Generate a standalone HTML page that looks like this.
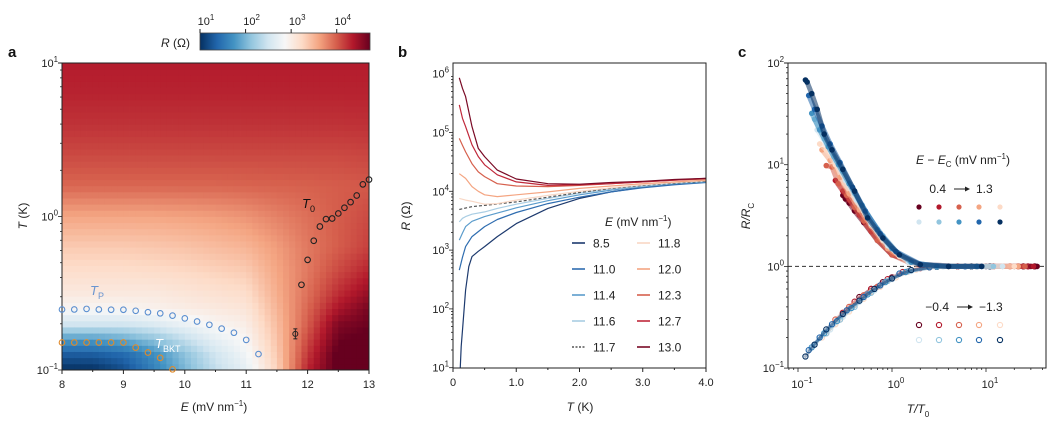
<!DOCTYPE html>
<html><head><meta charset="utf-8"><style>
body{margin:0;background:#fff}
svg{display:block;font-family:"Liberation Sans",sans-serif}
</style></head><body>
<svg id="fig" width="1064" height="422" viewBox="0 0 1064 422" xmlns="http://www.w3.org/2000/svg">
<g id="pa"></g>
<g id="pb"></g>
<g id="pc"></g>
</svg>
<script>
// ---------- Panel a data ----------
const heatE=[8,8.5,9,9.5,10,10.5,11,11.5,12,12.5,13];
const heatLogT=[-1,-0.9,-0.8,-0.7,-0.6,-0.5,-0.35,-0.2,0,0.2,0.4,0.6,0.8,1];
const heatLogR=[
[1.0,1.0,1.2,1.6,2.0,2.4,2.7,3.3,4.3,4.8,5.0],
[1.3,1.3,1.4,1.7,2.1,2.5,2.8,3.35,4.2,4.8,4.9],
[1.8,1.8,1.9,2.1,2.4,2.7,2.9,3.4,4.1,4.7,4.8],
[2.5,2.5,2.5,2.6,2.75,2.9,3.0,3.45,4.0,4.6,4.7],
[2.9,2.9,2.9,2.95,3.0,3.05,3.1,3.5,3.95,4.4,4.65],
[3.05,3.05,3.05,3.05,3.1,3.15,3.2,3.55,3.9,4.25,4.5],
[3.2,3.2,3.2,3.22,3.25,3.3,3.35,3.6,3.85,4.1,4.3],
[3.35,3.35,3.35,3.37,3.4,3.45,3.5,3.65,3.85,4.0,4.15],
[3.6,3.6,3.6,3.6,3.62,3.65,3.7,3.8,3.9,4.0,4.1],
[3.95,3.95,3.95,3.95,3.95,3.95,3.96,3.97,3.98,4.0,4.02],
[4.1,4.1,4.1,4.1,4.1,4.1,4.1,4.1,4.1,4.1,4.12],
[4.22,4.22,4.22,4.22,4.22,4.22,4.22,4.22,4.22,4.22,4.23],
[4.3,4.3,4.3,4.3,4.3,4.3,4.3,4.3,4.3,4.3,4.3],
[4.34,4.34,4.34,4.34,4.34,4.34,4.34,4.34,4.34,4.34,4.34]];
const tpE=[8,8.2,8.4,8.6,8.8,9,9.2,9.4,9.6,9.8,10,10.2,10.4,10.6,10.8,11,11.2];
const tpT=[.248,.248,.25,.248,.247,.247,.243,.238,.234,.226,.217,.207,.197,.186,.175,.157,.127];
const tbE=[8,8.2,8.4,8.6,8.8,9,9.2,9.4,9.6,9.8];
const tbT=[.151,.151,.151,.151,.151,.151,.14,.13,.12,.101];
const t0E=[11.9,12,12.1,12.2,12.3,12.4,12.5,12.6,12.7,12.8,12.9,13];
const t0T=[.359,.522,.695,.861,.962,.97,1.047,1.14,1.24,1.37,1.62,1.74];
const errE=[11.8], errT=[0.172];
// ---------- Panel b data ----------
const bLabels=["8.5","11.0","11.4","11.6","11.7","11.8","12.0","12.3","12.7","13.0"];
const bColors=["#1d3a6e","#2f6db0","#5b9ccc","#a9cde3","#555555","#f8d7c5","#f4a582","#d6604d","#c0283a","#7a0a25"];
const bT=[
[0.11,0.13,0.15,0.2,0.25,0.3,0.4,0.5,0.7,1.0,1.5,2.0,2.5,3.0,3.5,4.0],
[0.1,0.15,0.2,0.3,0.5,0.7,1.0,1.5,2,2.5,3,3.5,4],
[0.1,0.15,0.2,0.3,0.5,0.7,1.0,1.5,2,2.5,3,3.5,4],
[0.1,0.15,0.2,0.3,0.5,0.7,1.0,1.5,2,2.5,3,3.5,4],
[0.1,0.3,0.5,1.0,1.5,2,2.5,3,3.5,4],
[0.1,0.2,0.3,0.5,0.7,1.0,1.5,2,2.5,3,3.5,4],
[0.1,0.2,0.3,0.4,0.5,0.7,1.0,1.5,2,2.5,3,3.5,4],
[0.1,0.15,0.2,0.3,0.4,0.5,0.7,1.0,1.5,2,2.5,3,3.5,4],
[0.1,0.15,0.2,0.3,0.4,0.5,0.7,1.0,1.5,2,2.5,3,3.5,4],
[0.1,0.15,0.2,0.3,0.4,0.5,0.7,1.0,1.5,2,2.5,3,3.5,4]];
const bLogR=[
[0.9,1.36,1.64,2.32,2.72,2.89,2.98,3.06,3.23,3.45,3.71,3.88,3.99,4.07,4.12,4.16],
[2.66,2.88,3.06,3.23,3.4,3.52,3.64,3.79,3.9,3.99,4.06,4.11,4.15],
[3.17,3.29,3.4,3.49,3.57,3.63,3.72,3.84,3.94,4.02,4.08,4.13,4.16],
[3.48,3.54,3.57,3.61,3.65,3.71,3.78,3.88,3.97,4.04,4.09,4.14,4.17],
[3.69,3.74,3.76,3.82,3.9,3.98,4.05,4.1,4.14,4.17],
[3.88,3.85,3.83,3.78,3.79,3.85,3.93,4.0,4.06,4.11,4.15,4.18],
[4.3,4.22,4.08,4.0,3.94,3.91,3.94,3.99,4.05,4.09,4.13,4.16,4.19],
[4.9,4.78,4.67,4.47,4.33,4.25,4.13,4.09,4.08,4.1,4.13,4.16,4.19,4.21],
[5.47,5.24,5.1,4.79,4.59,4.45,4.28,4.16,4.1,4.11,4.13,4.16,4.19,4.22],
[5.93,5.75,5.61,5.1,4.73,4.59,4.36,4.21,4.13,4.12,4.15,4.17,4.2,4.22]];
// ---------- Panel c data ----------
const cColors=["#67001f","#b2182b","#d6604d","#f4a582","#fddbc7","#d1e5f0","#92c5de","#4393c3","#2166ac","#053061"];
const cUpX=[
[0.3,0.32,0.35,0.4,0.5,0.7,1,2,5,10,20,30,35],
[0.25,0.3,0.35,0.45,0.6,1,2,5,12,25,32],
[0.2,0.23,0.27,0.33,0.4,0.5,0.7,1,1.5,3,8,18,26],
[0.18,0.22,0.28,0.35,0.45,0.6,0.9,1.5,3,7,15,22],
[0.17,0.2,0.25,0.3,0.4,0.55,0.8,1.2,2,5,12,20],
[0.16,0.2,0.25,0.32,0.42,0.6,0.9,1.5,3,8,15],
[0.15,0.19,0.24,0.3,0.4,0.55,0.8,1.2,2,5,12],
[0.14,0.17,0.21,0.27,0.35,0.48,0.7,1,1.6,3,8],
[0.13,0.15,0.18,0.22,0.28,0.38,0.52,0.75,1.1,2,4,9],
[0.12,0.125,0.14,0.16,0.19,0.23,0.3,0.4,0.55,0.8,1.2,2,4,9]];
const cUpY=[
[5,4.6,4.2,3.5,2.7,1.8,1.3,1.05,1,1,1,1,1],
[7,5.5,4.5,3.2,2.2,1.3,1.04,1,1,1,1],
[9.8,9.5,6.5,5,3.8,2.8,1.8,1.3,1.1,1,1,1,1],
[14,11,7.5,5.2,3.6,2.5,1.5,1.1,1,1,1,1],
[16,14,10,8,5,3,1.8,1.25,1.05,1,1,1],
[22,16,11,7,4.5,2.6,1.6,1.1,1,1,1],
[28,18,12,8.5,5.2,3.2,2,1.3,1.05,1,1],
[32,22,15,10,6.5,4,2.3,1.5,1.1,1,1],
[48,35,24,16,10.5,6,3.5,2.1,1.4,1.05,1,1],
[68,65,50,35,20,14,9,5.5,3,1.9,1.3,1.04,1,1]];
const cLoX=[
[0.45,0.6,0.8,1,1.5,2.5,5,12,25,33],
[0.3,0.4,0.6,0.9,1.3,2,5,12,28],
[0.25,0.35,0.5,0.7,1,1.5,3,8,22],
[0.2,0.28,0.4,0.6,0.9,1.4,2.5,7,18],
[0.18,0.25,0.35,0.5,0.75,1.1,1.8,4,12],
[0.17,0.22,0.3,0.45,0.65,1,1.6,3.5,10],
[0.15,0.2,0.28,0.4,0.6,0.9,1.5,3,8],
[0.14,0.19,0.26,0.37,0.55,0.85,1.4,3,7],
[0.13,0.17,0.23,0.33,0.5,0.75,1.2,2.5,6],
[0.12,0.15,0.2,0.3,0.45,0.65,1,1.6,3,7,11]];
const cLoY=[
[0.5,0.6,0.7,0.78,0.9,0.98,1,1,1,1],
[0.35,0.45,0.6,0.75,0.88,0.96,1,1,1],
[0.3,0.4,0.52,0.63,0.76,0.9,0.99,1,1],
[0.22,0.3,0.42,0.56,0.72,0.88,0.98,1,1],
[0.2,0.27,0.36,0.48,0.63,0.78,0.93,1,1],
[0.2,0.24,0.32,0.45,0.58,0.75,0.9,1,1],
[0.17,0.22,0.3,0.4,0.55,0.72,0.9,0.99,1],
[0.16,0.22,0.29,0.39,0.53,0.7,0.88,0.99,1],
[0.15,0.2,0.27,0.37,0.5,0.65,0.85,0.98,1],
[0.13,0.17,0.24,0.34,0.46,0.6,0.76,0.92,1,1,1]];

const NS="http://www.w3.org/2000/svg";
function mk(parent,tag,attrs,text){const e=document.createElementNS(NS,tag);for(const k in attrs)e.setAttribute(k,attrs[k]);if(text!==undefined)e.textContent=text;parent.appendChild(e);return e;}
function pow10(parent,x,y,exp,anchor,size){
  const t=mk(parent,'text',{x:x,y:y,'text-anchor':anchor||'end','font-size':size||11,fill:'#222'});
  mk(t,'tspan',{},'10');mk(t,'tspan',{dy:-5,'font-size':(size||11)*0.72},exp);
  
  
  return t;}
// colormap
const cmStops=["#053061","#2166ac","#4393c3","#92c5de","#d1e5f0","#f7f7f7","#fddbc7","#f4a582","#d6604d","#b2182b","#67001f"];
function hx(c){return [parseInt(c.substr(1,2),16),parseInt(c.substr(3,2),16),parseInt(c.substr(5,2),16)];}
function cmap(t){t=Math.max(0,Math.min(1,t));const f=t*10,i=Math.min(9,Math.floor(f)),r=f-i;const a=hx(cmStops[i]),b=hx(cmStops[i+1]);
 return `rgb(${Math.round(a[0]+(b[0]-a[0])*r)},${Math.round(a[1]+(b[1]-a[1])*r)},${Math.round(a[2]+(b[2]-a[2])*r)})`;}
const cLo=1,cHi=4.73;

// ================= PANEL A =================
const A=document.getElementById('pa');
const aL=62,aR=369,aT=63,aB=370;
const ax=e=>aL+(e-8)/5*(aR-aL);
const ay=t=>aB-(Math.log10(t)+1)/2*(aB-aT);
function interp(arr,v){for(let i=0;i<arr.length-1;i++){if(v<=arr[i+1])return [i,(v-arr[i])/(arr[i+1]-arr[i])];}return [arr.length-2,1];}
const hm=mk(A,'g',{});


const nE=50,nT=50;
for(let i=0;i<nE;i++){for(let j=0;j<nT;j++){
  const e=8+(i+0.5)*5/nE, lt=-1+(j+0.5)*2/nT;
  const [ci,cr]=interp(heatE,e),[ri,rr]=interp(heatLogT,lt);
  const v=(heatLogR[ri][ci]*(1-cr)+heatLogR[ri][ci+1]*cr)*(1-rr)+(heatLogR[ri+1][ci]*(1-cr)+heatLogR[ri+1][ci+1]*cr)*rr;
  const x0=ax(8+i*5/nE),x1=ax(8+(i+1)*5/nE),y1=ay(Math.pow(10,-1+j*2/nT)),y0=ay(Math.pow(10,-1+(j+1)*2/nT));
  const r=mk(hm,'rect',{x:x0.toFixed(2),y:y0.toFixed(2),width:(x1-x0+0.4).toFixed(2),height:(y1-y0+0.4).toFixed(2),fill:cmap((v-cLo)/(cHi-cLo))});
  
  
}}
mk(A,'rect',{x:aL,y:aT,width:aR-aL,height:aB-aT,fill:'none',stroke:'#222','stroke-width':1});
// ticks
for(let d=-1;d<1;d++){for(let m=1;m<10;m++){const y=ay(m*Math.pow(10,d));mk(A,'line',{x1:aL,x2:aL-(m==1?4:2),y1:y,y2:y,stroke:'#222','stroke-width':0.8});}}
mk(A,'line',{x1:aL,x2:aL-4,y1:aT,y2:aT,stroke:'#222'});
pow10(A,58,aT+4,'1');pow10(A,58,ay(1)+4,'0');pow10(A,58,aB+4,'−1');
for(let e=8;e<=13;e++){mk(A,'line',{x1:ax(e),x2:ax(e),y1:aB,y2:aB+4,stroke:'#222'});const t=mk(A,'text',{x:ax(e),y:aB+18,'text-anchor':'middle','font-size':11,fill:'#222'},String(e));}
for(let e=8.5;e<13;e+=1){mk(A,'line',{x1:ax(e),x2:ax(e),y1:aB,y2:aB+2,stroke:'#222'});}
let t=mk(A,'text',{x:214,y:411,'text-anchor':'middle','font-size':12,fill:'#222'});

t.innerHTML='<tspan font-style="italic">E</tspan> (mV nm<tspan dy="-5" font-size="8">−1</tspan><tspan dy="5">)</tspan>';
t=mk(A,'text',{x:0,y:0,transform:'translate(27,216) rotate(-90)','text-anchor':'middle','font-size':12,fill:'#222'});

t.innerHTML='<tspan font-style="italic">T</tspan> (K)';
// circles
function circles(es,ts,col,name){for(let i=0;i<es.length;i++){const c=mk(A,'circle',{cx:ax(es[i]),cy:ay(ts[i]),r:2.8,fill:'none',stroke:col,'stroke-width':1.1});}}
circles(tpE,tpT,'#5b8fd0','tp-point');
circles(tbE,tbT,'#e08a2a','tbkt-point');
circles(t0E,t0T,'#222','t0-point');
for(let i=0;i<errE.length;i++){const x=ax(errE[i]),y=ay(errT[i]);mk(A,'line',{x1:x,x2:x,y1:y-5,y2:y+5,stroke:'#222'});mk(A,'line',{x1:x-2,x2:x+2,y1:y-5,y2:y-5,stroke:'#222'});mk(A,'line',{x1:x-2,x2:x+2,y1:y+5,y2:y+5,stroke:'#222'});
 const c=mk(A,'circle',{cx:x,cy:y,r:2.5,fill:'none',stroke:'#222'});}
t=mk(A,'text',{x:90,y:295,'font-size':13,fill:'#6a95d0','font-style':'italic'});t.innerHTML='T<tspan dy="4" font-size="9" font-style="normal">P</tspan>';

t=mk(A,'text',{x:155,y:348,'font-size':13,fill:'#fff','font-style':'italic'});t.innerHTML='T<tspan dy="4" font-size="9" font-style="normal">BKT</tspan>';

t=mk(A,'text',{x:302,y:208,'font-size':13,fill:'#111','font-style':'italic'});t.innerHTML='T<tspan dy="4" font-size="9" font-style="normal">0</tspan>';

// colorbar
const defs=mk(document.getElementById('fig'),'defs',{});
const lg=mk(defs,'linearGradient',{id:'cbg',x1:0,x2:1,y1:0,y2:0});
cmStops.forEach((c,i)=>mk(lg,'stop',{offset:i/10,'stop-color':c}));
const cb=mk(A,'rect',{x:200,y:33,width:170,height:17,fill:'url(#cbg)',stroke:'#444','stroke-width':0.8});

const cbx=v=>200+(v-cLo)/(cHi-cLo)*170;
for(let d=1;d<=4;d++){mk(A,'line',{x1:cbx(d),x2:cbx(d),y1:33,y2:29,stroke:'#222'});pow10(A,cbx(d)+6,25,String(d),'middle',11);}
t=mk(A,'text',{x:190,y:47,'text-anchor':'end','font-size':12,fill:'#222'});t.innerHTML='<tspan font-style="italic">R</tspan> (Ω)';

t=mk(A,'text',{x:8,y:57,'font-size':15,'font-weight':'bold',fill:'#111'},'a');


// ================= PANEL B =================
const B=document.getElementById('pb');
const bL=453,bR=706,bTop=63,bB=368;
const bx=T=>bL+T/4*(bR-bL);
const by=l=>367.7-(l-1)*58.8;
mk(defs,'clipPath',{id:'bclip'}).appendChild(Object.assign(document.createElementNS(NS,'rect'),{}));
document.querySelector('#bclip rect').setAttribute('x',bL);document.querySelector('#bclip rect').setAttribute('y',bTop);document.querySelector('#bclip rect').setAttribute('width',bR-bL);document.querySelector('#bclip rect').setAttribute('height',bB-bTop);
const bg=mk(B,'g',{'clip-path':'url(#bclip)'});
for(let s=0;s<bT.length;s++){
  const pts=bT[s].map((T,i)=>bx(T).toFixed(1)+','+by(bLogR[s][i]).toFixed(1)).join(' ');
  const p=mk(bg,'polyline',{points:pts,fill:'none',stroke:bColors[s],'stroke-width':1.2,'stroke-dasharray':s==4?'3,2':'none','stroke-linejoin':'round'});
  
}
mk(B,'rect',{x:bL,y:bTop,width:bR-bL,height:bB-bTop,fill:'none',stroke:'#222'});
for(let d=1;d<6;d++){for(let m=1;m<10;m++){const y=by(d+Math.log10(m));mk(B,'line',{x1:bL,x2:bL-(m==1?4:2),y1:y,y2:y,stroke:'#222','stroke-width':0.8});}}
for(let d=1;d<=6;d++)pow10(B,449,by(d)+4,String(d));
for(let i=0;i<=8;i++){const x=bx(i*0.5);mk(B,'line',{x1:x,x2:x,y1:bB,y2:bB+(i%2?2:4),stroke:'#222'});}
['0','1.0','2.0','3.0','4.0'].forEach((s,i)=>{const tt=mk(B,'text',{x:bx(i),y:bB+18,'text-anchor':'middle','font-size':11,fill:'#222'},s);});
t=mk(B,'text',{x:580,y:411,'text-anchor':'middle','font-size':12,fill:'#222'});t.innerHTML='<tspan font-style="italic">T</tspan> (K)';

t=mk(B,'text',{x:0,y:0,transform:'translate(410,216) rotate(-90)','text-anchor':'middle','font-size':12,fill:'#222'});t.innerHTML='<tspan font-style="italic">R</tspan> (Ω)';

t=mk(B,'text',{x:605,y:226,'font-size':12,fill:'#222'});t.innerHTML='<tspan font-style="italic">E</tspan> (mV nm<tspan dy="-5" font-size="8">−1</tspan><tspan dy="5">)</tspan>';

for(let s=0;s<10;s++){const col=Math.floor(s/5),row=s%5;const lx=col?637:572,ly=243+row*26;
 const g=mk(B,'g',{});
 mk(g,'line',{x1:lx,x2:lx+13,y1:ly,y2:ly,stroke:bColors[s],'stroke-width':1.6,'stroke-dasharray':s==4?'2,1.5':'none'});
 mk(g,'text',{x:lx+21,y:ly+4.5,'font-size':12,fill:'#222'},bLabels[s]);}
t=mk(B,'text',{x:398,y:57,'font-size':15,'font-weight':'bold',fill:'#111'},'b');


// ================= PANEL C =================
const C=document.getElementById('pc');
const cL=788,cR=1046,cTop=63,cB=368;
const cx=v=>798+(Math.log10(v)+1)*94;
const cy=v=>63+(2-Math.log10(v))*101.7;
mk(C,'line',{x1:cL,x2:cR,y1:cy(1),y2:cy(1),stroke:'#333','stroke-dasharray':'4,3','stroke-width':1});
for(let s=0;s<10;s++){
  const pts=cLoX[s].map((v,i)=>cx(v).toFixed(1)+','+cy(cLoY[s][i]).toFixed(1)).join(' ');
  const p=mk(C,'polyline',{points:pts,fill:'none',stroke:cColors[s],'stroke-width':3,'stroke-opacity':0.35,'stroke-linecap':'round'});
  
  cLoX[s].forEach((v,i)=>{const c=mk(C,'circle',{cx:cx(v),cy:cy(cLoY[s][i]),r:2.6,fill:'none',stroke:cColors[s],'stroke-width':1.1});});
}
for(let s=0;s<10;s++){
  const pts=cUpX[s].map((v,i)=>cx(v).toFixed(1)+','+cy(cUpY[s][i]).toFixed(1)).join(' ');
  const p=mk(C,'polyline',{points:pts,fill:'none',stroke:cColors[s],'stroke-width':5,'stroke-opacity':0.55,'stroke-linecap':'round','stroke-linejoin':'round'});
  
  cUpX[s].forEach((v,i)=>{const c=mk(C,'circle',{cx:cx(v),cy:cy(cUpY[s][i]),r:2.8,fill:cColors[s]});});
}
mk(C,'rect',{x:cL,y:cTop,width:cR-cL,height:cB-cTop,fill:'none',stroke:'#222'});
for(let d=-1;d<2;d++){for(let m=1;m<10;m++){const y=cy(m*Math.pow(10,d));mk(C,'line',{x1:cL,x2:cL-(m==1?4:2),y1:y,y2:y,stroke:'#222','stroke-width':0.8});}}
mk(C,'line',{x1:cL,x2:cL-4,y1:cTop,y2:cTop,stroke:'#222'});
pow10(C,784,cTop+4,'2');pow10(C,784,cy(10)+4,'1');pow10(C,784,cy(1)+4,'0');pow10(C,784,cB+4,'−1');
for(let d=-2;d<2;d++){for(let m=1;m<10;m++){const x=cx(m*Math.pow(10,d));if(x<cL||x>cR)continue;mk(C,'line',{x1:x,x2:x,y1:cB,y2:cB+(m==1?4:2),stroke:'#222','stroke-width':0.8});}}
pow10(C,cx(0.1)+4,cB+20,'−1','middle');pow10(C,cx(1)+4,cB+20,'0','middle');pow10(C,cx(10)+4,cB+20,'1','middle');
t=mk(C,'text',{x:918,y:413,'text-anchor':'middle','font-size':12,fill:'#222','font-style':'italic'});t.innerHTML='T/T<tspan dy="4" font-size="8" font-style="normal">0</tspan>';

t=mk(C,'text',{x:0,y:0,transform:'translate(750,216) rotate(-90)','text-anchor':'middle','font-size':12,fill:'#222','font-style':'italic'});t.innerHTML='R/R<tspan dy="4" font-size="8" font-style="normal">C</tspan>';

t=mk(C,'text',{x:916,y:164,'font-size':12,fill:'#222'});t.innerHTML='<tspan font-style="italic">E</tspan> − <tspan font-style="italic">E</tspan><tspan dy="3" font-size="8">C</tspan><tspan dy="-3"> (mV nm</tspan><tspan dy="-5" font-size="8">−1</tspan><tspan dy="5">)</tspan>';

function arrowText(x,y,a,b){const g=mk(C,'g',{});
 mk(g,'text',{x:x,y:y,'font-size':12,'text-anchor':'end',fill:'#222'},a);
 mk(g,'line',{x1:x+8,x2:x+22,y1:y-4,y2:y-4,stroke:'#222'});mk(g,'path',{d:`M${x+24} ${y-4} l-5 -2.5 v5z`,fill:'#222'});
 mk(g,'text',{x:x+30,y:y,'font-size':12,fill:'#222'},b);}
arrowText(946,193,'0.4','1.3');
arrowText(949,311,'−0.4','−1.3');
const lx=[919,939,959,979,1000];
for(let s=0;s<10;s++){const row=Math.floor(s/5),col=s%5;
 let c=mk(C,'circle',{cx:lx[col],cy:207+row*15,r:2.6,fill:cColors[s]});
 c=mk(C,'circle',{cx:lx[col],cy:325+row*15,r:2.6,fill:'none',stroke:cColors[s],'stroke-width':1.1});}
t=mk(C,'text',{x:738,y:57,'font-size':15,'font-weight':'bold',fill:'#111'},'c');

</script>
</body></html>
